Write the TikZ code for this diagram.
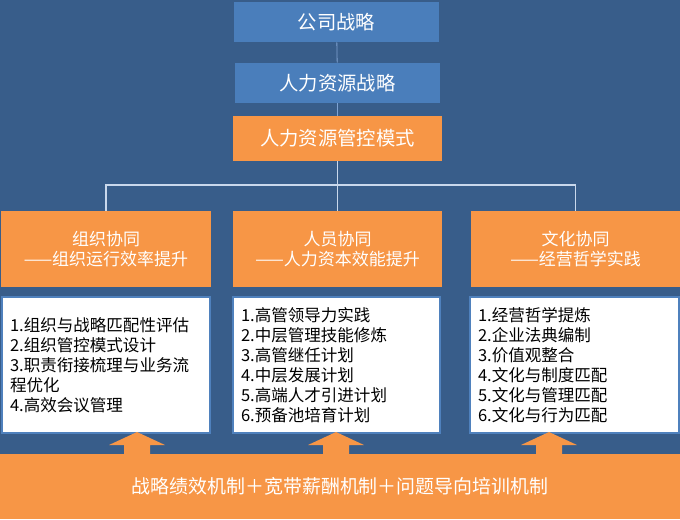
\documentclass[tikz,border=0pt]{standalone}
\usepackage{fontspec}
\setmainfont{Noto Sans CJK SC}
\definecolor{bgblue}{HTML}{385D8A}
\definecolor{boxblue}{HTML}{4A7EBB}
\definecolor{hrorange}{HTML}{F79646}
\definecolor{frameblue}{HTML}{4F81BD}
\definecolor{linkblue}{HTML}{7FA3D3}
\definecolor{buswhite}{HTML}{C9D8EC}
\begin{document}
\begin{tikzpicture}[x=0.75pt,y=-0.75pt,
	topbox/.style={fill=boxblue,text=white,inner sep=0pt,minimum width=153.75pt,minimum height=30pt,font=\fontsize{14.5}{17}\selectfont},
	modebox/.style={fill=hrorange,text=white,inner sep=0pt,minimum width=156.75pt,minimum height=33.75pt,font=\fontsize{14.5}{17}\selectfont},
	headbox/.style={fill=hrorange,text=white,inner sep=0pt,minimum width=156.75pt,minimum height=57pt,align=center,font=\fontsize{12.75}{15}\selectfont},
	listbox/.style={fill=white,draw=frameblue,line width=1.5pt,inner xsep=6pt,inner ysep=0pt,text width=144pt,minimum height=102pt,align=left,font=\fontsize{12.4}{15}\selectfont},
	link/.style={linkblue,line width=0.6pt},
	bus/.style={buswhite,line width=1.2pt}]
	\fill[bgblue] (0,0) rectangle (680,519);
	\node[topbox] (corp) at (336.5,22) {公司战略};
	\node[topbox] (hrs) at (337.5,83) {人力资源战略};
	\node[modebox] (mode) at (337.5,138.5) {人力资源管控模式};
	\draw[link] (corp) -- (hrs);
	\draw[link] (hrs) -- (mode);
	\node[headbox,minimum width=157.5pt] (org) at (106,249) {组织协同\\——组织运行效率提升};
	\node[headbox] (ppl) at (337.5,249) {人员协同\\——人力资本效能提升};
	\node[headbox] (cul) at (575.5,249) {文化协同\\——经营哲学实践};
	\draw[bus] (mode.south) -- ++(0,24) coordinate (fork);
	\draw[bus] (fork) -| (org.north);
	\draw[bus] (fork) -| (cul.north);
	\draw[bus] (fork) -- (ppl.north);
	\node[listbox] (orglist) at (106,365) {1.组织与战略匹配性评估\\2.组织管控模式设计\\3.职责衔接梳理与业务流\\程优化\\4.高效会议管理};
	\node[listbox,text width=143.25pt] (ppllist) at (336.5,365) {1.高管领导力实践\\2.中层管理技能修炼\\3.高管继任计划\\4.中层发展计划\\5.高端人才引进计划\\6.预备池培育计划};
	\node[listbox,text width=144.75pt] (cullist) at (574.5,365) {1.经营哲学提炼\\2.企业法典编制\\3.价值观整合\\4.文化与制度匹配\\5.文化与管理匹配\\6.文化与行为匹配};
	\foreach \x in {137,336,549}
		\fill[hrorange] (\x,432) -- (\x+28,445) -- (\x+13,445) -- (\x+13,456) -- (\x-13,456) -- (\x-13,445) -- (\x-28,445) -- cycle;
	\node[fill=hrorange,text=white,inner sep=0pt,minimum width=510pt,minimum height=48.75pt,font=\fontsize{14.2}{17}\selectfont] (base) at (340,486.5) {战略绩效机制＋宽带薪酬机制＋问题导向培训机制};
\end{tikzpicture}
\end{document}
